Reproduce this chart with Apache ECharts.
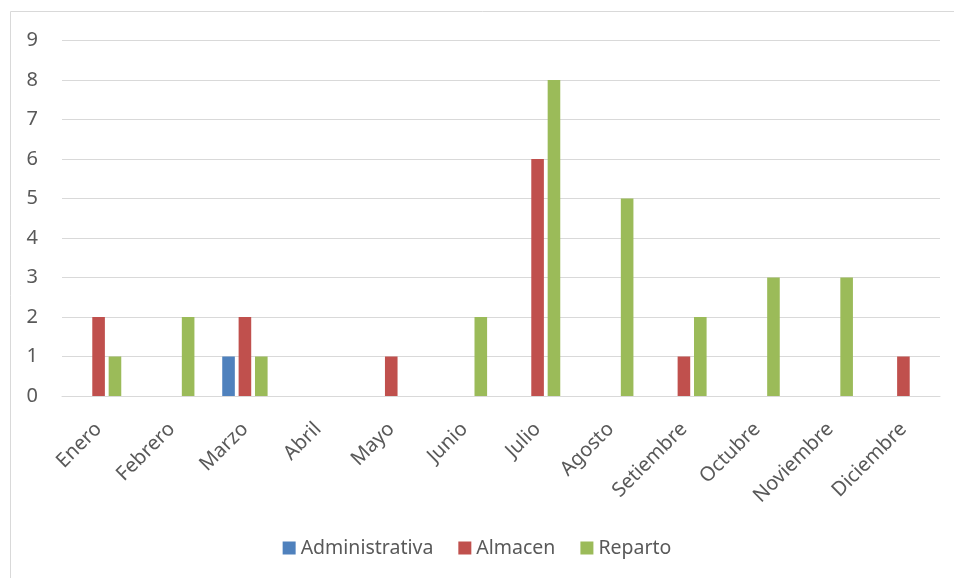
<!DOCTYPE html>
<html><head><meta charset="utf-8">
<script src="https://cdn.jsdelivr.net/npm/echarts@6/dist/echarts.min.js"></script>
<style>html,body{margin:0;padding:0;background:#fff}#c{width:954px;height:578px}</style>
</head><body><div id="c"></div>
<script>
const categories = ["Enero","Febrero","Marzo","Abril","Mayo","Junio","Julio","Agosto","Setiembre","Octubre","Noviembre","Diciembre"];
const administrativa = [0,0,1,0,0,0,0,0,0,0,0,0];
const almacen = [2,0,2,0,1,0,6,0,1,0,0,1];
const reparto = [1,2,1,0,0,2,8,5,2,3,3,0];
const seriesNames = ["Administrativa","Almacen","Reparto"];
const yTicks = {min:0, max:9, interval:1};

const font = "'Noto Sans', 'Open Sans', sans-serif";
const txt = '#595959';
const chart = echarts.init(document.getElementById('c'));
const mk = (name, data, color) => ({
  name, type:'bar', data: data.map(v => v === 0 ? null : v),
  itemStyle:{color}, barGap:'30%', barCategoryGap:'38%'
});
chart.setOption({
  animation:false,
  textStyle:{fontFamily:font},
  graphic:[{type:'rect', shape:{x:10.5,y:11.5,width:960,height:600}, style:{fill:'none', stroke:'#d9d9d9', lineWidth:1}, z:-1}],
  grid:{left:62, right:14, top:40.5, bottom:182, containLabel:false},
  legend:{
    bottom:15, left:'center', itemWidth:13, itemHeight:13, itemGap:25,
    icon:'rect', textStyle:{color:txt, fontSize:19.5, fontFamily:font},
    data:seriesNames
  },
  xAxis:{
    type:'category', data:categories,
    axisLine:{lineStyle:{color:'#d9d9d9', width:1}},
    axisTick:{show:false},
    axisLabel:{rotate:45, color:txt, fontSize:20, fontFamily:font, margin:30, interval:0}
  },
  yAxis:{
    type:'value', min:yTicks.min, max:yTicks.max, interval:yTicks.interval,
    axisLine:{show:false}, axisTick:{show:false},
    splitLine:{lineStyle:{color:'#d9d9d9', width:1}},
    axisLabel:{color:txt, fontSize:20, fontFamily:font, margin:24}
  },
  series:[
    mk(seriesNames[0], administrativa, '#4f81bd'),
    mk(seriesNames[1], almacen, '#c0504d'),
    mk(seriesNames[2], reparto, '#9bbb59')
  ]
});
</script></body></html>
